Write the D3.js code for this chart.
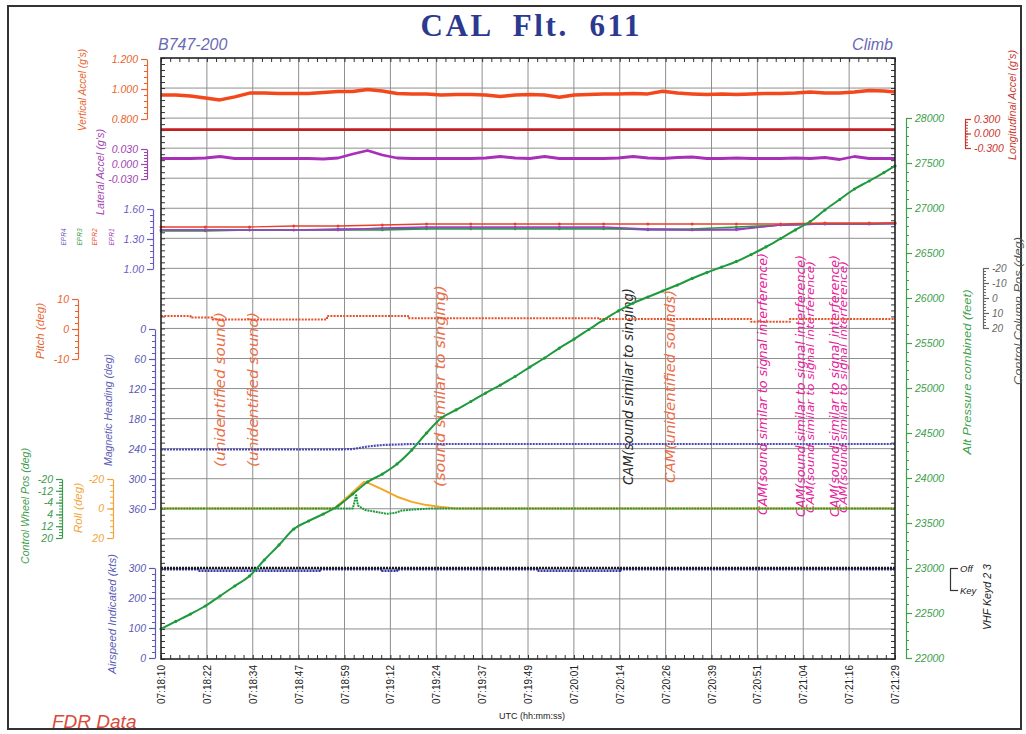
<!DOCTYPE html>
<html><head><meta charset="utf-8">
<script src="https://cdn.jsdelivr.net/npm/d3@7"></script>
<style>
body{margin:0;background:#fff;}
svg{display:block;}
</style></head><body>
<svg id="chart" width="1026" height="734"></svg>
<script>
// ================= DATA =================
const timeLabels = ["07:18:10","07:18:22","07:18:34","07:18:47","07:18:59","07:19:12","07:19:24","07:19:37","07:19:49","07:20:01","07:20:14","07:20:26","07:20:39","07:20:51","07:21:04","07:21:16","07:21:29"];

// seconds after 07:18:10
const sampleTimes = [0,4,8,12,16,20,24,28,32,36,40,44,48,52,56,60,64,68,72,76,80,84,88,92,96,100,104,108,112,116,120,124,128,132,136,140,144,148,152,156,160,164,168,172,176,180,184,188,192,196,199];

const vertAccel = [0.960,0.960,0.953,0.940,0.927,0.947,0.973,0.973,0.970,0.970,
                   0.970,0.977,0.983,0.983,0.997,0.987,0.970,0.967,0.967,0.960,
                   0.963,0.963,0.960,0.950,0.960,0.963,0.960,0.945,0.960,0.963,
                   0.967,0.967,0.970,0.967,0.985,0.973,0.967,0.963,0.967,0.963,
                   0.967,0.970,0.970,0.973,0.980,0.973,0.973,0.980,0.990,0.987,
                   0.980];

const lateralAccel = [0.011,0.011,0.011,0.012,0.015,0.011,0.011,0.011,0.011,0.011,
                      0.011,0.010,0.012,0.020,0.027,0.018,0.012,0.011,0.011,0.011,
                      0.011,0.011,0.012,0.015,0.012,0.011,0.015,0.011,0.011,0.011,
                      0.011,0.012,0.015,0.012,0.011,0.013,0.014,0.011,0.011,0.012,
                      0.011,0.011,0.011,0.012,0.011,0.013,0.009,0.015,0.011,0.011,
                      0.011];

const altitude = [22322,22406,22489,22578,22689,22800,22911,23089,23256,23433,
                  23522,23600,23689,23822,23956,24044,24156,24311,24500,24667,
                  24756,24850,24944,25033,25128,25233,25333,25444,25544,25650,
                  25756,25856,25944,26011,26078,26144,26217,26283,26344,26406,
                  26483,26567,26661,26756,26850,26978,27094,27211,27300,27394,
                  27467];

const longTimes = [0, 60, 120, 199];
const longAccel = [0.08, 0.08, 0.08, 0.08];

const eprTimes = [0,12,24,36,48,60,72,84,96,108,120,132,144,156,168,180,192,199];
const epr1 = [1.39,1.39,1.39,1.39,1.39,1.41,1.42,1.42,1.42,1.42,1.42,1.40,1.39,1.39,1.44,1.45,1.45,1.46];
const epr2 = [1.42,1.42,1.42,1.43,1.43,1.44,1.45,1.45,1.45,1.45,1.45,1.45,1.45,1.45,1.45,1.46,1.46,1.46];
const epr3 = [1.38,1.38,1.39,1.39,1.39,1.39,1.40,1.40,1.40,1.40,1.40,1.40,1.40,1.42,1.44,1.45,1.45,1.46];
const epr4 = [1.39,1.39,1.39,1.39,1.40,1.40,1.41,1.41,1.41,1.41,1.41,1.39,1.39,1.40,1.44,1.45,1.45,1.45];

const pitchTimes = [0, 8, 14, 45, 67, 119, 160, 170.5, 199];
const pitch = [4.3, 3.8, 3.2, 4.3, 3.6, 3.3, 2.4, 3.3, 3.3];

const headingTimes = [0, 48, 52, 56, 60, 64, 68, 199];
const heading = [241, 241, 240, 235, 232, 231, 230, 230];

const rollTimes = [0, 47, 52, 55, 56, 60, 64, 68, 72, 76, 80, 199];
const roll = [0, 0, -11, -18, -17.5, -13, -8, -4.5, -2.3, -1, 0, 0];

const wheelTimes = [0, 52, 52.9, 53.4, 55.3, 58.8, 61.3, 63.4, 65.3, 68.6, 73.2, 199];
const wheel = [0, 0, -9, -2, 1, 2.5, 3.6, 3.0, 1.4, 0.7, 0, 0];

const airspeedTimes = [0, 10, 43, 60, 64, 102, 124.5, 199];
const airspeed = [296, 291, 296, 291, 296, 291, 296, 296];

const vhfTimes = [0, 199];
const vhfKeyed = [0, 0];   // 0 = Off, 1 = Key
const vhfLabels = ["Off", "Key"];

const annotationTexts = ["(unidentified sound)","(unidentified sound)","(sound similar to singing)",
  "CAM(sound similar to singing)","CAM(unidentified sounds)",
  "CAM(sound similar to signal interference)","CAM(sound similar to signal interference)",
  "CAM(sound similar to signal interference)","CAM(sound similar to signal interference)",
  "CAM(sound similar to signal interference)"];
const annotationTimes = [16.0, 24.9, 75.6, 126.6, 138.0, 163.2, 173.5, 176.0, 182.7, 185.1];

// ================= LAYOUT / STYLE =================
const annotationStyle = [
  {color:"#ea6e48", bottom:467, len:155, size:14},
  {color:"#ea6e48", bottom:467, len:155, size:14},
  {color:"#ea6e48", bottom:487, len:202, size:14},
  {color:"#2a2a2a", bottom:485, len:197, size:14},
  {color:"#ea6e48", bottom:483, len:193, size:14},
  {color:"#e6209a", bottom:515, len:262, size:13},
  {color:"#e6209a", bottom:517, len:262, size:13},
  {color:"#e6209a", bottom:513, len:252, size:11},
  {color:"#e6209a", bottom:517, len:262, size:13},
  {color:"#e6209a", bottom:513, len:252, size:11}
];

const SANS = "'Liberation Sans', Arial, sans-serif";
const svg = d3.select("#chart");
const plot = {left:161, right:895, top:58, bottom:659};

const x = d3.scaleLinear().domain([0,199]).range([plot.left, plot.right]);
const majorTimes = timeLabels.map((d,i)=> i*199/(timeLabels.length-1));
const minorTimes = d3.range(0, 81).map(i => i*199/80);

const gridY = d3.scaleLinear().domain([0,20]).range([plot.top, plot.bottom]);
const borderY = d3.scaleLinear().domain([0,100]).range([plot.top, plot.bottom]);

// scales
const yVert = d3.scaleLinear().domain([0.8,1.2]).range([119,59]);
const yLong = d3.scaleLinear().domain([-0.3,0.3]).range([148,119]);
const yLat = d3.scaleLinear().domain([-0.03,0.03]).range([179,149]);
const yEpr = d3.scaleLinear().domain([1.0,1.6]).range([269,209]);
const yPitch = d3.scaleLinear().domain([-10,10]).range([359,299]);
const yHead = d3.scaleLinear().domain([0,360]).range([329,509]);
const yRoll = d3.scaleLinear().domain([-20,20]).range([479,538]);
const yWheel = d3.scaleLinear().domain([-20,20]).range([479,538]);
const yAir = d3.scaleLinear().domain([0,300]).range([658,568]);
const yAlt = d3.scaleLinear().domain([22000,28000]).range([658,118]);
const yCol = d3.scaleLinear().domain([-20,20]).range([268,328]);
const yVhf = d3.scaleLinear().domain([0,1]).range([568,590]);

// ================= FRAME & TITLES =================
svg.append("rect").attr("x",8).attr("y",6).attr("width",1013).attr("height",723)
  .attr("fill","none").attr("stroke","#333").attr("stroke-width",2);

svg.append("text").attr("x",530).attr("y",36).attr("text-anchor","middle")
  .attr("font-family","'Liberation Serif', 'Times New Roman', serif").attr("font-weight","bold")
  .attr("font-size",31).attr("fill","#2b3990").style("white-space","pre")
  .attr("textLength",219).attr("lengthAdjust","spacing")
  .text("CAL  Flt.  611");

svg.append("text").attr("x",158).attr("y",50).attr("font-family",SANS).attr("font-style","italic")
  .attr("font-size",16).attr("fill","#6a6ab4").text("B747-200");
svg.append("text").attr("x",893).attr("y",50).attr("text-anchor","end").attr("font-family",SANS).attr("font-style","italic")
  .attr("font-size",16).attr("fill","#6a6ab4").text("Climb");
svg.append("text").attr("x",52).attr("y",728).attr("font-family",SANS).attr("font-style","italic")
  .attr("font-size",19).attr("fill","#d84a3c").text("FDR Data");
svg.append("text").attr("x",532).attr("y",719).attr("text-anchor","middle").attr("font-family",SANS)
  .attr("font-size",9).attr("fill","#222").text("UTC  (hh:mm:ss)");

// ================= GRID =================
const grid = svg.append("g");
grid.selectAll(".hg").data(d3.range(1,20)).join("line")
  .attr("x1",plot.left).attr("x2",plot.right).attr("y1",d=>gridY(d)).attr("y2",d=>gridY(d))
  .attr("stroke","#8e8e8e").attr("stroke-width",1);
grid.selectAll(".vg").data(majorTimes.slice(1,-1)).join("line")
  .attr("x1",d=>x(d)).attr("x2",d=>x(d)).attr("y1",plot.top).attr("y2",plot.bottom)
  .attr("stroke","#8e8e8e").attr("stroke-width",1);

// border minor ticks
function styleMinor(g, color){ g.select(".domain").remove(); g.selectAll("line").attr("stroke",color); g.selectAll("text").remove(); }
svg.append("g").attr("transform",`translate(${plot.left},0)`)
  .call(d3.axisRight(borderY).tickValues(d3.range(0,101)).tickSize(4).tickFormat("")).call(g=>styleMinor(g,"#333"));
svg.append("g").attr("transform",`translate(${plot.right},0)`)
  .call(d3.axisLeft(borderY).tickValues(d3.range(0,101)).tickSize(4).tickFormat("")).call(g=>styleMinor(g,"#333"));
svg.append("g").attr("transform",`translate(0,${plot.bottom})`)
  .call(d3.axisTop(x).tickValues(minorTimes).tickSize(4).tickFormat("")).call(g=>styleMinor(g,"#333"));
svg.append("g").attr("transform",`translate(0,${plot.top})`)
  .call(d3.axisBottom(x).tickValues(minorTimes).tickSize(4).tickFormat("")).call(g=>styleMinor(g,"#333"));

// time axis
svg.append("g").attr("transform",`translate(0,${plot.bottom})`)
  .call(d3.axisBottom(x).tickValues(majorTimes).tickFormat((d,i)=>timeLabels[i]).tickSize(0))
  .call(g=>{
    g.select(".domain").remove();
    g.selectAll("text").attr("transform","rotate(-90)").attr("x",-6).attr("y",0).attr("dy","0.35em")
      .attr("text-anchor","end").attr("font-family",SANS).attr("font-size",10).attr("fill","#222");
  });

// ================= ANNOTATIONS =================
svg.append("g").selectAll("text").data(annotationTexts).join("text")
  .attr("transform",(d,i)=>`translate(${x(annotationTimes[i])},${annotationStyle[i].bottom}) rotate(-90)`)
  .attr("text-anchor","start").attr("dominant-baseline","central")
  .attr("font-family","'DejaVu Sans', sans-serif").attr("font-style","italic")
  .attr("font-size",(d,i)=>annotationStyle[i].size).attr("fill",(d,i)=>annotationStyle[i].color)
  .attr("textLength",(d,i)=>annotationStyle[i].len).attr("lengthAdjust","spacingAndGlyphs")
  .text(d=>d);

// ================= SERIES =================
function drawSeries(times, values, yScale, color, width, opts={}){
  const line = d3.line().x((d,i)=>x(times[i])).y(d=>yScale(d)).curve(opts.curve || d3.curveLinear);
  const p = svg.append("path").datum(values).attr("d",line).attr("fill","none")
    .attr("stroke",color).attr("stroke-width",width).attr("stroke-linejoin","round");
  if(opts.dash) p.attr("stroke-dasharray",opts.dash);
  if(opts.marker){
    svg.append("g").selectAll("circle").data(values).join("circle")
      .attr("cx",(d,i)=>x(times[i])).attr("cy",d=>yScale(d)).attr("r",opts.marker).attr("fill",color);
  }
}
drawSeries(sampleTimes, vertAccel, yVert, "#f2481c", 3.4);
drawSeries(longTimes, longAccel, yLong, "#c41e1e", 2.6);
drawSeries(sampleTimes, lateralAccel, yLat, "#a830b8", 2.8);
drawSeries(eprTimes, epr4, yEpr, "#6a4ac8", 1.4, {marker:1.3});
drawSeries(eprTimes, epr3, yEpr, "#2a9a40", 1.4, {marker:1.3});
drawSeries(eprTimes, epr1, yEpr, "#a040c0", 1.4, {marker:1.3});
drawSeries(eprTimes, epr2, yEpr, "#e8402a", 1.4, {marker:1.5});
drawSeries(pitchTimes, pitch, yPitch, "#e8502a", 2, {curve:d3.curveStepAfter, dash:"2,1.2"});
drawSeries(headingTimes, heading, yHead, "#4a4ab4", 2.2, {dash:"2,1"});
drawSeries(rollTimes, roll, yRoll, "#f5a623", 2);
drawSeries(wheelTimes, wheel, yWheel, "#1e9a3c", 2, {dash:"2,0.8"});
drawSeries(airspeedTimes, airspeed, yAir, "#3434a8", 2.6, {curve:d3.curveStepAfter, dash:"2,1"});
drawSeries(vhfTimes, vhfKeyed, yVhf, "#1a1a1a", 2.4, {dash:"2,1"});
drawSeries(sampleTimes, altitude, yAlt, "#1e9a3c", 2, {marker:1.6, curve:d3.curveMonotoneX});

// plot border
svg.append("rect").attr("x",plot.left).attr("y",plot.top).attr("width",plot.right-plot.left)
  .attr("height",plot.bottom-plot.top).attr("fill","none").attr("stroke","#222").attr("stroke-width",1.6);

// ================= AXES =================
function axis(scale, xpos, side, majors, minors, fmt, color, labelSize=10.5){
  const A = side==="left" ? d3.axisLeft : d3.axisRight;
  const g = svg.append("g").attr("transform",`translate(${xpos},0)`);
  g.call(A(scale).tickValues(minors).tickSize(3).tickFormat("").tickSizeOuter(0));
  g.selectAll(".tick line").attr("stroke",color);
  g.select(".domain").remove();
  const g2 = svg.append("g").attr("transform",`translate(${xpos},0)`);
  g2.call(A(scale).tickValues(majors).tickSize(6).tickSizeOuter(0).tickPadding(3).tickFormat(fmt));
  g2.select(".domain").attr("stroke",color).attr("stroke-width",1.2);
  g2.selectAll(".tick line").attr("stroke",color).attr("stroke-width",1.2);
  g2.selectAll("text").attr("fill",color).attr("font-family",SANS).attr("font-style","italic").attr("font-size",labelSize);
}
function title(txt, xpos, ypos, color, size=10, len=null){
  const t = svg.append("text").attr("transform",`translate(${xpos},${ypos}) rotate(-90)`)
    .attr("text-anchor","middle").attr("dominant-baseline","central")
    .attr("font-family",SANS).attr("font-style","italic").attr("font-size",size).attr("fill",color).text(txt);
  if(len) t.attr("textLength",len).attr("lengthAdjust","spacingAndGlyphs");
}
const fmt3 = d => d3.format(".3f")(d).replace("−","-");
axis(yVert, 147, "left", [0.8,1.0,1.2], d3.range(0.8,1.2001,0.04), fmt3, "#e8642c");
title("Vertical Accel (g's)", 82, 90, "#e8642c", 10, 82);

axis(yLat, 147, "left", [-0.03,0,0.03], d3.range(-0.03,0.0301,0.006), fmt3, "#a044b4");
title("Lateral Accel (g's)", 100, 172, "#a044b4", 10, 86);

axis(yEpr, 153, "left", [1.0,1.3,1.6], d3.range(1.0,1.6001,0.06), d=>d3.format(".2f")(d), "#6c5cc0");
title("EPR4", 63, 237, "#6c5cc0", 8, 17);
title("EPR3", 79, 237, "#3c9a4c", 8, 17);
title("EPR2", 94, 237, "#e8502a", 8, 17);
title("EPR1", 111, 237, "#a044b4", 8, 17);

axis(yPitch, 78, "left", [-10,0,10], d3.range(-10,10.01,2), d=>d3.format("d")(d).replace("−","-"), "#e8642c");
title("Pitch (deg)", 40, 331, "#e8642c", 10, 56);

axis(yHead, 155, "left", d3.range(0,361,60), d3.range(0,361,12), d=>d, "#5a5ab4");
title("Magnetic Heading (deg)", 108, 410, "#5a5ab4", 10, 112);

axis(yWheel, 62, "left", [-20,-12,-4,4,12,20], d3.range(-20,20.01,2), d=>String(d), "#3c9a4c");
title("Control Wheel Pos (deg)", 25, 506, "#3c9a4c", 10, 116);

axis(yRoll, 113, "left", [-20,0,20], d3.range(-20,20.01,4), d=>String(d), "#f0a436");
title("Roll (deg)", 78, 508, "#f0a436", 10, 50);

axis(yAir, 155, "left", [0,100,200,300], d3.range(0,301,20), d=>d, "#5a5ab4");
title("Airspeed Indicated (kts)", 112, 614, "#5a5ab4", 10, 120);

axis(yAlt, 906, "right", d3.range(22000,28001,500), d3.range(22000,28001,100), d=>d, "#3ca04c");
title("Alt Pressure combined (feet)", 967, 372, "#3ca04c", 10.5, 165);

axis(yLong, 965, "right", [-0.3,0,0.3], d3.range(-0.3,0.3001,0.06), d=>d3.format(".3f")(d).replace("−","-"), "#c8372d");
title("Longitudinal Accel (g's)", 1012, 105, "#c8372d", 10.5, 110);

axis(yCol, 983, "right", [-20,-10,0,10,20], d3.range(-20,20.01,2), d=>String(d), "#666", 10);
title("Control Column Pos (deg)", 1018, 311, "#555", 10.5, 148);

// VHF keyed bracket
const gv = svg.append("g").attr("transform","translate(950,0)");
gv.call(d3.axisRight(yVhf).tickValues([0,1]).tickSize(8).tickSizeOuter(0).tickPadding(2).tickFormat((d,i)=>vhfLabels[i]));
gv.select(".domain").attr("stroke","#333").attr("stroke-width",1.2);
gv.selectAll(".tick line").attr("stroke","#333").attr("stroke-width",1.2);
gv.selectAll("text").attr("fill","#222").attr("font-family",SANS).attr("font-style","italic").attr("font-size",9.5);
title("VHF Keyd 2 3", 987, 597, "#222", 10, 66);
</script>
</body></html>
